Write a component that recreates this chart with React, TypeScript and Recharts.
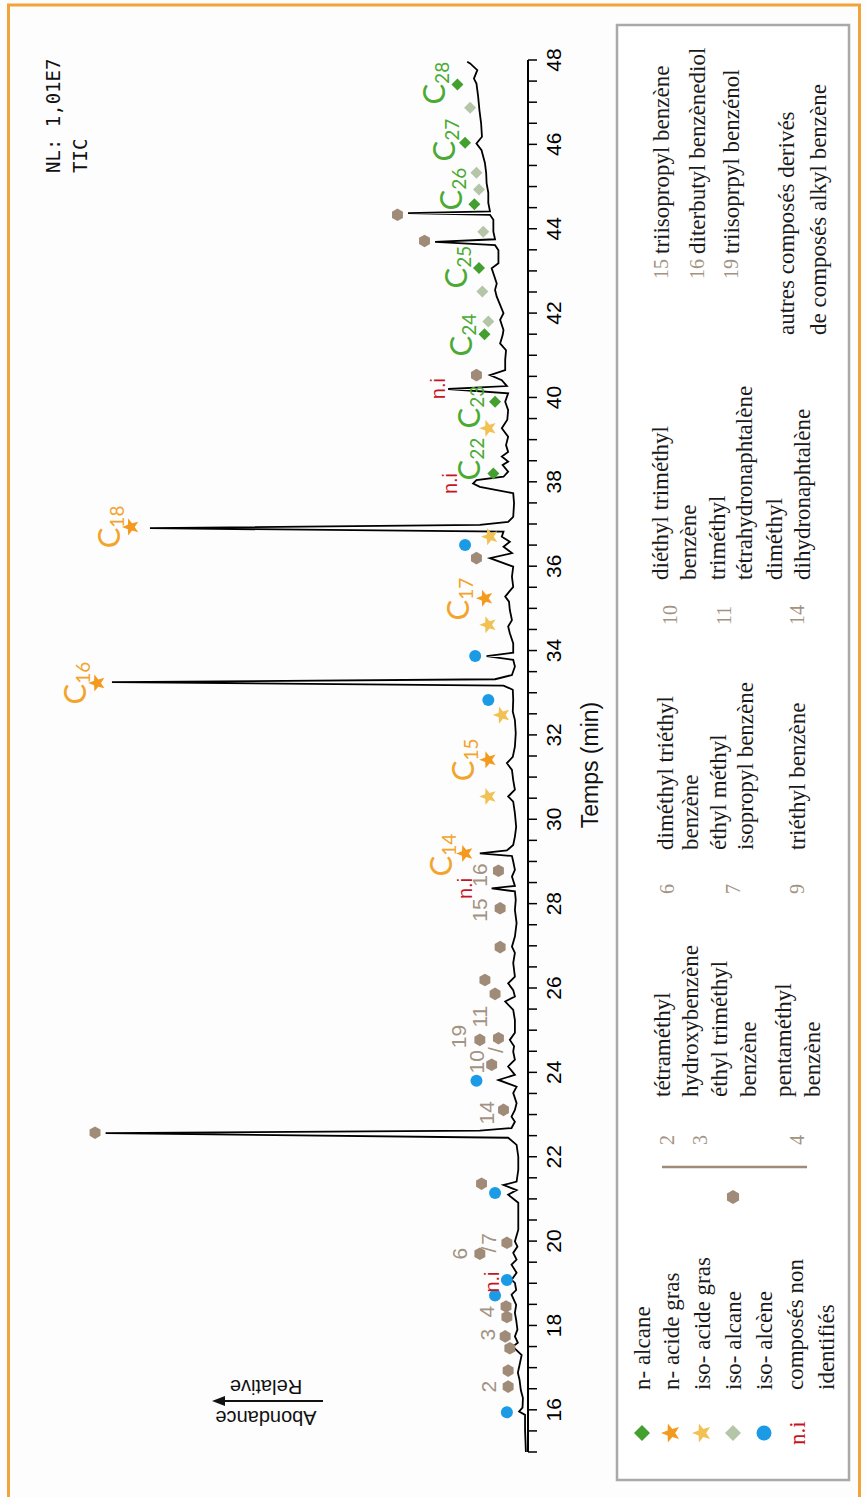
import React from 'react';
import { ComposedChart, Line, Scatter, XAxis, YAxis } from 'recharts';

// chromatogram trace: [time (min), relative abundance (%)]
const trace: [number, number][] = [
  [15.0, 0.5], [15.53, 0.7], [15.88, 0.7], [15.96, 2.1], [16.05, 1.3], [16.28, 1.2], [16.47, 1.7],
  [16.71, 2.0], [16.88, 2.4], [17.11, 1.9], [17.3, 1.5], [17.5, 3.6], [17.59, 2.4], [17.74, 3.1],
  [17.9, 2.5], [18.13, 2.8], [18.3, 3.1], [18.49, 2.8], [18.73, 3.9], [18.84, 2.8], [19.01, 3.1],
  [19.08, 3.9], [19.25, 2.7], [19.44, 3.9], [19.56, 2.7], [19.72, 3.5], [19.87, 2.5], [19.99, 3.1],
  [20.27, 2.3], [20.58, 2.3], [20.91, 2.3], [21.1, 4.7], [21.21, 2.7], [21.33, 5.8], [21.41, 2.7],
  [21.69, 2.3], [22.0, 2.3], [22.28, 2.7], [22.45, 4.7], [22.56, 100], [22.62, 11.4], [22.68, 3.9],
  [22.83, 3.1], [22.95, 3.9], [23.11, 3.1], [23.27, 2.7], [23.51, 3.5], [23.66, 2.7], [23.82, 7.0],
  [23.94, 3.1], [24.14, 4.7], [24.3, 3.1], [24.49, 3.5], [24.62, 3.3], [24.77, 4.3], [24.94, 3.1],
  [25.24, 3.1], [25.48, 3.5], [25.68, 5.4], [25.8, 3.1], [25.95, 3.5], [26.11, 4.7], [26.27, 3.1],
  [26.59, 3.5], [26.83, 3.1], [26.98, 3.8], [27.22, 3.1], [27.54, 2.7], [27.85, 3.1], [28.09, 2.9],
  [28.29, 3.1], [28.36, 8.6], [28.42, 3.1], [28.64, 3.8], [28.8, 3.1], [29.0, 3.5], [29.13, 3.8],
  [29.19, 11.4], [29.26, 5.0], [29.39, 3.5], [29.59, 3.1], [29.82, 2.8], [30.14, 3.1], [30.42, 3.5],
  [30.54, 4.7], [30.7, 3.1], [30.93, 3.5], [31.17, 3.8], [31.33, 5.0], [31.48, 3.6], [31.72, 3.1],
  [32.04, 2.9], [32.35, 3.1], [32.55, 3.6], [32.83, 3.5], [33.07, 3.6], [33.17, 5.8], [33.25, 98.5],
  [33.32, 7.8], [33.42, 3.8], [33.62, 3.1], [33.78, 3.5], [33.87, 9.8], [33.95, 3.5], [34.17, 3.5],
  [34.41, 4.3], [34.57, 4.7], [34.72, 3.8], [34.96, 4.3], [35.16, 4.5], [35.28, 5.4], [35.51, 3.5],
  [35.75, 3.8], [35.99, 3.5], [36.19, 9.0], [36.31, 3.8], [36.46, 5.8], [36.58, 4.3], [36.7, 6.2],
  [36.82, 5.8], [36.9, 89.5], [36.98, 11.4], [37.05, 4.7], [37.17, 3.5], [37.49, 3.3], [37.73, 3.5],
  [37.88, 11.4], [37.96, 13.0], [38.04, 12.2], [38.12, 5.8], [38.24, 4.7], [38.4, 6.0], [38.48, 4.7],
  [38.6, 6.2], [38.71, 4.7], [38.87, 5.2], [39.07, 4.7], [39.27, 6.2], [39.47, 4.9], [39.7, 4.7],
  [39.9, 5.4], [40.1, 4.7], [40.2, 18.9], [40.27, 5.0], [40.41, 6.2], [40.53, 9.0], [40.65, 5.4],
  [40.89, 5.4], [41.12, 5.2], [41.28, 6.6], [41.48, 6.0], [41.6, 5.8], [41.84, 6.6], [42.0, 5.8],
  [42.39, 7.4], [42.55, 7.8], [42.7, 7.4], [43.06, 8.6], [43.18, 7.0], [43.49, 7.0], [43.61, 7.8],
  [43.69, 22.0], [43.75, 7.8], [43.93, 8.2], [44.21, 8.2], [44.33, 9.0], [44.37, 28.4], [44.41, 9.0],
  [44.61, 9.4], [44.85, 9.4], [45.08, 9.8], [45.32, 9.9], [45.56, 10.2], [45.86, 11.0], [46.02, 12.2],
  [46.18, 10.9], [46.5, 11.1], [46.81, 11.5], [47.13, 11.8], [47.44, 12.2], [47.56, 12.8], [47.76, 12.0],
  [47.92, 13.7], [47.96, 14.4],
];

// marker positions [time, abundance]
const nAlcane: [number, number][] = [[38.2, 8.2], [39.9, 7.8], [41.5, 10.3], [43.07, 11.6], [44.58, 12.7], [46.04, 14.9], [47.42, 16.7]];
const isoAlcane: [number, number][] = [[41.8, 9.4], [42.51, 10.8], [43.93, 10.6], [44.93, 11.6], [45.33, 12.2], [46.87, 13.7]];
const nAcideGras: [number, number][] = [[29.19, 14.9], [31.41, 9.4], [33.23, 102.0], [35.24, 10.2], [36.93, 94.0]];
const isoAcideGras: [number, number][] = [[30.54, 9.4], [32.47, 6.2], [34.61, 9.4], [36.7, 9.0], [39.27, 9.4]];
const isoAlcene: [number, number][] = [[15.94, 5.0], [18.71, 7.8], [19.08, 5.0], [21.14, 7.8], [23.8, 12.2], [32.83, 9.4], [33.87, 12.5], [36.5, 14.9]];
const alkylBenzene: [number, number][] = [
  [16.55, 4.7], [16.93, 4.7], [17.46, 4.3], [17.74, 5.4], [18.2, 5.0], [18.45, 5.2], [19.7, 11.4],
  [19.96, 5.0], [21.36, 11.0], [22.57, 102.5], [23.11, 5.8], [24.18, 8.6], [24.77, 11.4], [24.81, 7.0],
  [25.86, 7.8], [26.19, 10.2], [26.97, 6.6], [27.89, 6.6], [28.78, 7.0], [36.19, 12.2], [40.53, 12.2],
  [43.71, 24.5], [44.33, 30.9],
];

type Kind = 'num' | 'ni' | 'acid' | 'alc';
const peakLabels: { t: number; a: number; text: string; sub?: string; kind: Kind }[] = [
  { t: 16.55, a: 9.4, text: '2', kind: 'num' },
  { t: 17.78, a: 9.6, text: '3', kind: 'num' },
  { t: 18.33, a: 9.8, text: '4', kind: 'num' },
  { t: 19.03, a: 8.6, text: 'n.i', kind: 'ni' },
  { t: 19.7, a: 16.1, text: '6', kind: 'num' },
  { t: 19.8, a: 9.4, text: '/', kind: 'num' },
  { t: 20.05, a: 9.4, text: '7', kind: 'num' },
  { t: 23.04, a: 9.8, text: '14', kind: 'num' },
  { t: 24.25, a: 12.3, text: '10', kind: 'num' },
  { t: 24.85, a: 16.4, text: '19', kind: 'num' },
  { t: 24.53, a: 7.8, text: '/', kind: 'num' },
  { t: 25.32, a: 11.4, text: '11', kind: 'num' },
  { t: 27.85, a: 11.4, text: '15', kind: 'num' },
  { t: 28.36, a: 14.9, text: 'n.i', kind: 'ni' },
  { t: 28.68, a: 11.4, text: '16', kind: 'num' },
  { t: 29.15, a: 20.8, text: 'C', sub: '14', kind: 'acid' },
  { t: 31.41, a: 15.6, text: 'C', sub: '15', kind: 'acid' },
  { t: 33.23, a: 107.5, text: 'C', sub: '16', kind: 'acid' },
  { t: 35.22, a: 16.8, text: 'C', sub: '17', kind: 'acid' },
  { t: 36.93, a: 99.5, text: 'C', sub: '18', kind: 'acid' },
  { t: 37.96, a: 18.5, text: 'n.i', kind: 'ni' },
  { t: 38.54, a: 14.1, text: 'C', sub: '22', kind: 'alc' },
  { t: 39.77, a: 14.1, text: 'C', sub: '23', kind: 'alc' },
  { t: 40.21, a: 21.2, text: 'n.i', kind: 'ni' },
  { t: 41.48, a: 16.1, text: 'C', sub: '24', kind: 'alc' },
  { t: 43.09, a: 17.3, text: 'C', sub: '25', kind: 'alc' },
  { t: 44.94, a: 18.5, text: 'C', sub: '26', kind: 'alc' },
  { t: 46.1, a: 20.1, text: 'C', sub: '27', kind: 'alc' },
  { t: 47.45, a: 22.5, text: 'C', sub: '28', kind: 'alc' },
];

const timeTicks = [
  15, 15.5, 16, 16.5, 17, 17.5, 18, 18.5, 19, 19.5, 20, 20.5, 21, 21.5, 22, 22.5, 23, 23.5, 24, 24.5,
  25, 25.5, 26, 26.5, 27, 27.5, 28, 28.5, 29, 29.5, 30, 30.5, 31, 31.5, 32, 32.5, 33, 33.5, 34, 34.5,
  35, 35.5, 36, 36.5, 37, 37.5, 38, 38.5, 39, 39.5, 40, 40.5, 41, 41.5, 42, 42.5, 43, 43.5, 44, 44.5,
  45, 45.5, 46, 46.5, 47, 47.5, 48,
];

const COL = {
  nAlcane: '#43a02e',
  nAcide: '#f39a1f',
  isoAcide: '#f1c153',
  isoAlcane: '#b4c5a8',
  isoAlcene: '#1b9be6',
  alkyl: '#a08b78',
  num: '#a39383',
  ni: '#c8141e',
  frame: '#f2a43c',
};
const labelColor: Record<Kind, string> = { num: COL.num, ni: COL.ni, acid: '#f2a42c', alc: '#4aaa33' };

const toPts = (arr: [number, number][]) => arr.map(([t, a]) => ({ t, a }));

function starPath(cx: number, cy: number, R: number, r: number) {
  let d = '';
  for (let i = 0; i < 10; i++) {
    const ang = -Math.PI / 2 + (i * Math.PI) / 5;
    const rad = i % 2 === 0 ? R : r;
    d += (i === 0 ? 'M' : 'L') + (cx + rad * Math.cos(ang)).toFixed(2) + ',' + (cy + rad * Math.sin(ang)).toFixed(2);
  }
  return d + 'Z';
}
function hexPath(cx: number, cy: number, R: number) {
  let d = '';
  for (let i = 0; i < 6; i++) {
    const ang = (i * Math.PI) / 3;
    d += (i === 0 ? 'M' : 'L') + (cx + R * Math.cos(ang)).toFixed(2) + ',' + (cy + R * Math.sin(ang)).toFixed(2);
  }
  return d + 'Z';
}
const Diamond = ({ cx, cy, r, fill }: any) => (
  <path d={`M${cx},${cy - r}L${cx + r},${cy}L${cx},${cy + r}L${cx - r},${cy}Z`} fill={fill} />
);

const diamondShape = (fill: string, r: number) => (p: any) => <Diamond cx={p.cx} cy={p.cy} r={r} fill={fill} />;
const starShape = (fill: string) => (p: any) => <path d={starPath(p.cx, p.cy, 9, 3.8)} fill={fill} />;
const hexShape = (p: any) => <path d={hexPath(p.cx, p.cy, 6.3)} fill={COL.alkyl} />;
const dotShape = (p: any) => <circle cx={p.cx} cy={p.cy} r={6} fill={COL.isoAlcene} />;

const labelShape = (p: any) => {
  const d = p.payload;
  const fill = labelColor[d.kind as Kind];
  if (d.sub) {
    return (
      <text x={p.cx} y={p.cy} textAnchor="middle" dominantBaseline="central" fill={fill} fontFamily="Lato, 'Noto Sans', sans-serif">
        <tspan fontSize={31}>{d.text}</tspan>
        <tspan fontSize={19} dy={8}>{d.sub}</tspan>
      </text>
    );
  }
  return (
    <text x={p.cx} y={p.cy} textAnchor="middle" dominantBaseline="central" fill={fill}
      fontSize={d.kind === 'ni' ? 20 : 21} fontWeight={d.kind === 'ni' ? 500 : 400}
      fontFamily="'Liberation Sans', Arial, sans-serif">
      {d.text}
    </text>
  );
};

const W = 1497;
const H = 867;
const serif = "'Liberation Serif', 'Times New Roman', serif";

function Legend() {
  const txt = (x: number, y: number, s: string, fill = '#1a1a1a', size = 23) => (
    <text x={x} y={y} dominantBaseline="central" fontFamily={serif} fontSize={size} fill={fill}>{s}</text>
  );
  return (
    <g>
      <rect x={17} y={617} width={1455} height={232} fill="#fff" stroke="#a9a9a9" strokeWidth={2.5} />
      {/* categories */}
      <Diamond cx={64} cy={642} r={8} fill={COL.nAlcane} />
      <path d={starPath(64, 671, 10, 4.2)} fill={COL.nAcide} />
      <path d={starPath(64, 702, 10, 4.2)} fill={COL.isoAcide} />
      <Diamond cx={64} cy={733} r={8} fill={COL.isoAlcane} />
      <circle cx={64} cy={764} r={7.5} fill={COL.isoAlcene} />
      {txt(52, 797, 'n.i', COL.ni)}
      {txt(107, 642, 'n- alcane')}
      {txt(107, 671, 'n- acide gras')}
      {txt(107, 702, 'iso- acide gras')}
      {txt(107, 733, 'iso- alcane')}
      {txt(107, 764, 'iso- alcène')}
      {txt(107, 795, 'composés non')}
      {txt(107, 826, 'identifiés')}
      {/* alkyl benzene group */}
      <path d={hexPath(300, 733, 7)} fill={COL.alkyl} />
      <line x1={330} y1={662} x2={330} y2={807} stroke={COL.alkyl} strokeWidth={2.5} />
      {txt(352, 667, '2', COL.num, 20)}
      {txt(352, 700, '3', COL.num, 20)}
      {txt(352, 797, '4', COL.num, 20)}
      {txt(400, 662, 'tétraméthyl')}
      {txt(400, 690, 'hydroxybenzène')}
      {txt(400, 719, 'éthyl triméthyl')}
      {txt(400, 748, 'benzène')}
      {txt(400, 783, 'pentaméthyl')}
      {txt(400, 812, 'benzène')}
      {txt(603, 667, '6', COL.num, 20)}
      {txt(603, 733, '7', COL.num, 20)}
      {txt(603, 797, '9', COL.num, 20)}
      {txt(647, 665, 'diméthyl triéthyl')}
      {txt(647, 690, 'benzène')}
      {txt(647, 718, 'éthyl méthyl')}
      {txt(647, 745, 'isopropyl benzène')}
      {txt(647, 797, 'triéthyl benzène')}
      {txt(872, 670, '10', COL.num, 20)}
      {txt(872, 724, '11', COL.num, 20)}
      {txt(872, 797, '14', COL.num, 20)}
      {txt(917, 660, 'diéthyl triméthyl')}
      {txt(917, 688, 'benzène')}
      {txt(917, 717, 'triméthyl')}
      {txt(917, 744, 'tétrahydronaphtalène')}
      {txt(917, 774, 'diméthyl')}
      {txt(917, 802, 'dihydronaphtalène')}
      {txt(1218, 661, '15', COL.num, 20)}
      {txt(1218, 697, '16', COL.num, 20)}
      {txt(1218, 731, '19', COL.num, 20)}
      {txt(1243, 661, 'triisopropyl benzène')}
      {txt(1243, 697, 'diterbutyl benzènediol')}
      {txt(1243, 731, 'triisoprpyl benzénol')}
      {txt(1162, 786, 'autres composés derivés')}
      {txt(1162, 818, 'de composés alkyl benzène')}
    </g>
  );
}

function Overlay() {
  return (
    <svg width={W} height={H} style={{ position: 'absolute', left: 0, top: 0 }}>
      <rect x={-10} y={8.5} width={1502} height={851} fill="none" stroke={COL.frame} strokeWidth={3} />
      <Legend />
      <text x={1324} y={53} dominantBaseline="central" fontFamily="'DejaVu Sans Mono', monospace" fontSize={19} fill="#111">NL: 1,01E7</text>
      <text x={1324} y={80} dominantBaseline="central" fontFamily="'DejaVu Sans Mono', monospace" fontSize={19} fill="#111">TIC</text>
      <text x={732} y={590} textAnchor="middle" dominantBaseline="central" fontFamily="'Liberation Sans', Arial, sans-serif" fontSize={23} fill="#111">Temps (min)</text>
      <text transform="translate(79,266) rotate(-90)" textAnchor="middle" dominantBaseline="central" fontFamily="'Liberation Sans', Arial, sans-serif" fontSize={20} fill="#111">Abondance</text>
      <text transform="translate(110,266) rotate(-90)" textAnchor="middle" dominantBaseline="central" fontFamily="'Liberation Sans', Arial, sans-serif" fontSize={20} fill="#111">Relative</text>
      <line x1={96} y1={323} x2={96} y2={222} stroke="#111" strokeWidth={2} />
      <path d="M96,212L91,225L101,225Z" fill="#111" />
    </svg>
  );
}

export default function App() {
  const traceData = toPts(trace);
  return (
    <div style={{ position: 'absolute', left: 0, top: 0, width: H, height: W, overflow: 'hidden', background: '#fdfdfd' }}>
      <div style={{ position: 'absolute', left: 0, top: 0, width: W, height: H, transformOrigin: '0 0', transform: `translate(0px, ${W}px) rotate(-90deg)` }}>
        <ComposedChart width={W} height={H} margin={{ top: 0, right: 60, bottom: 299, left: 45 }}>
          <XAxis
            type="number"
            dataKey="t"
            domain={[15, 48]}
            ticks={timeTicks}
            interval={0}
            allowDataOverflow
            height={40}
            tickSize={9}
            tickMargin={9}
            tickFormatter={(v: number) => (v % 2 === 0 ? String(v) : '')}
            axisLine={{ stroke: '#000', strokeWidth: 2 }}
            tickLine={{ stroke: '#000', strokeWidth: 1.5 }}
            tick={{ fill: '#000', fontSize: 21, fontFamily: "'Liberation Sans', Arial, sans-serif" }}
          />
          <YAxis type="number" dataKey="a" domain={[0, 125]} hide allowDataOverflow />
          <Line data={traceData} dataKey="a" type="linear" stroke="#000" strokeWidth={1.8} dot={false} isAnimationActive={false} />
          <Scatter data={toPts(alkylBenzene)} shape={hexShape} isAnimationActive={false} />
          <Scatter data={toPts(isoAlcene)} shape={dotShape} isAnimationActive={false} />
          <Scatter data={toPts(nAlcane)} shape={diamondShape(COL.nAlcane, 6)} isAnimationActive={false} />
          <Scatter data={toPts(isoAlcane)} shape={diamondShape(COL.isoAlcane, 6)} isAnimationActive={false} />
          <Scatter data={toPts(nAcideGras)} shape={starShape(COL.nAcide)} isAnimationActive={false} />
          <Scatter data={toPts(isoAcideGras)} shape={starShape(COL.isoAcide)} isAnimationActive={false} />
          <Scatter data={peakLabels} shape={labelShape} isAnimationActive={false} />
        </ComposedChart>
        <Overlay />
      </div>
    </div>
  );
}
